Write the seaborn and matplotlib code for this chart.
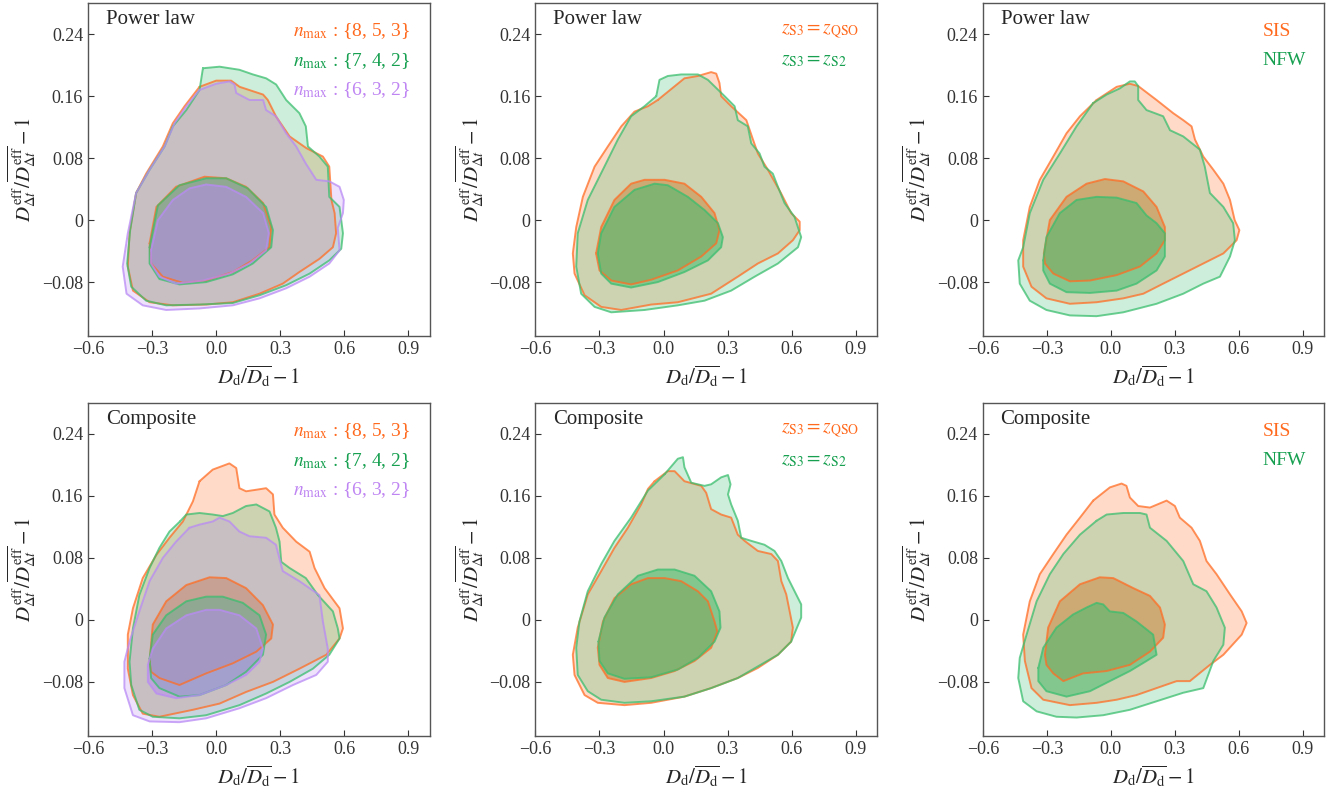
import numpy as np
import matplotlib
matplotlib.use('Agg')
import matplotlib.pyplot as plt
import seaborn as sns

# Contour outlines (68% inner / 95% outer)
# x = D_d/<D_d> - 1, y = D_dt/<D_dt> - 1

# ---- Power law, n_max
pl_n853_95 = [(-0.078, 0.172), (0.0, 0.180), (0.07, 0.180), (0.11, 0.172), (0.22, 0.162), (0.242, 0.155),
              (0.28, 0.134), (0.344, 0.108), (0.422, 0.093), (0.5, 0.082), (0.53, 0.069), (0.54, 0.026),
              (0.555, 0.009), (0.562, -0.017), (0.547, -0.035), (0.484, -0.050), (0.39, -0.067),
              (0.312, -0.082), (0.203, -0.095), (0.078, -0.106), (-0.047, -0.109), (-0.203, -0.110),
              (-0.312, -0.106), (-0.39, -0.091), (-0.414, -0.060), (-0.406, -0.017), (-0.375, 0.035),
              (-0.328, 0.060), (-0.25, 0.095), (-0.203, 0.125), (-0.148, 0.147)]
pl_n853_68 = [(-0.312, -0.030), (-0.28, 0.017), (-0.188, 0.043), (-0.055, 0.056), (0.047, 0.054),
              (0.14, 0.043), (0.22, 0.022), (0.258, -0.009), (0.25, -0.035), (0.17, -0.052),
              (0.078, -0.067), (-0.047, -0.078), (-0.156, -0.081), (-0.25, -0.073), (-0.305, -0.056)]
pl_n742_95 = [(-0.062, 0.196), (0.016, 0.198), (0.109, 0.194), (0.172, 0.188), (0.234, 0.183), (0.281, 0.175),
              (0.328, 0.155), (0.39, 0.138), (0.42, 0.121), (0.43, 0.095), (0.484, 0.082), (0.523, 0.069),
              (0.53, 0.030), (0.578, 0.017), (0.594, -0.017), (0.586, -0.037), (0.53, -0.052),
              (0.438, -0.069), (0.328, -0.084), (0.203, -0.097), (0.078, -0.107), (-0.078, -0.109),
              (-0.234, -0.110), (-0.328, -0.104), (-0.398, -0.086), (-0.417, -0.056), (-0.403, -0.013),
              (-0.375, 0.035), (-0.312, 0.065), (-0.242, 0.095), (-0.203, 0.121), (-0.14, 0.142),
              (-0.078, 0.168)]
pl_n742_68 = [(-0.312, -0.035), (-0.273, 0.019), (-0.172, 0.045), (-0.047, 0.054), (0.047, 0.054),
              (0.148, 0.041), (0.234, 0.017), (0.266, -0.013), (0.258, -0.035), (0.172, -0.056),
              (0.078, -0.070), (-0.047, -0.080), (-0.172, -0.083), (-0.266, -0.076), (-0.312, -0.056)]
pl_n632_95 = [(-0.078, 0.168), (0.0, 0.176), (0.062, 0.179), (0.086, 0.175), (0.094, 0.164), (0.156, 0.155),
              (0.22, 0.155), (0.234, 0.142), (0.28, 0.134), (0.328, 0.112), (0.375, 0.095), (0.42, 0.073),
              (0.469, 0.052), (0.53, 0.050), (0.578, 0.043), (0.598, 0.026), (0.594, 0.009),
              (0.57, -0.010), (0.578, -0.039), (0.53, -0.056), (0.438, -0.073), (0.328, -0.088),
              (0.203, -0.101), (0.078, -0.110), (-0.078, -0.114), (-0.234, -0.116), (-0.344, -0.110),
              (-0.42, -0.095), (-0.438, -0.060), (-0.414, -0.017), (-0.375, 0.035), (-0.312, 0.065),
              (-0.242, 0.095), (-0.195, 0.125), (-0.14, 0.147)]
pl_n632_68 = [(-0.305, -0.039), (-0.273, 0.0), (-0.203, 0.026), (-0.125, 0.041), (-0.047, 0.046),
              (0.047, 0.043), (0.14, 0.030), (0.22, 0.009), (0.247, -0.017), (0.234, -0.039),
              (0.156, -0.056), (0.062, -0.069), (-0.062, -0.078), (-0.188, -0.082), (-0.266, -0.073),
              (-0.305, -0.056)]

# ---- Power law, z_S3
pl_qso_95 = [(-0.027, 0.155), (0.098, 0.183), (0.161, 0.186), (0.223, 0.191), (0.247, 0.189), (0.262, 0.177),
             (0.27, 0.160), (0.317, 0.147), (0.388, 0.129), (0.419, 0.104), (0.442, 0.086), (0.489, 0.065),
             (0.55, 0.035), (0.598, 0.009), (0.638, -0.002), (0.638, -0.013), (0.606, -0.026),
             (0.536, -0.043), (0.442, -0.056), (0.348, -0.073), (0.223, -0.095), (0.067, -0.106),
             (-0.058, -0.109), (-0.198, -0.116), (-0.292, -0.112), (-0.37, -0.097), (-0.417, -0.069),
             (-0.425, -0.043), (-0.409, -0.009), (-0.378, 0.030), (-0.323, 0.069), (-0.261, 0.095),
             (-0.198, 0.121), (-0.136, 0.140), (-0.073, 0.147)]
pl_qso_68 = [(-0.316, -0.043), (-0.292, -0.009), (-0.23, 0.026), (-0.152, 0.047), (-0.089, 0.052),
             (0.005, 0.052), (0.098, 0.047), (0.177, 0.030), (0.239, 0.009), (0.262, -0.013),
             (0.247, -0.030), (0.177, -0.047), (0.067, -0.065), (-0.058, -0.077), (-0.152, -0.083),
             (-0.245, -0.078), (-0.30, -0.065)]
pl_s2_95 = [(-0.034, 0.160), (-0.019, 0.181), (0.02, 0.186), (0.083, 0.188), (0.161, 0.188), (0.208, 0.181),
            (0.286, 0.160), (0.333, 0.147), (0.348, 0.129), (0.395, 0.121), (0.411, 0.099), (0.45, 0.086),
            (0.473, 0.069), (0.512, 0.060), (0.536, 0.043), (0.567, 0.022), (0.614, 0.004),
            (0.645, -0.022), (0.63, -0.035), (0.536, -0.056), (0.427, -0.073), (0.317, -0.091),
            (0.192, -0.104), (0.067, -0.110), (-0.089, -0.116), (-0.245, -0.119), (-0.323, -0.112),
            (-0.386, -0.095), (-0.409, -0.060), (-0.402, -0.017), (-0.355, 0.026), (-0.277, 0.069),
            (-0.214, 0.104), (-0.152, 0.134), (-0.089, 0.147)]
pl_s2_68 = [(-0.308, -0.043), (-0.292, -0.017), (-0.23, 0.017), (-0.136, 0.039), (-0.042, 0.047),
            (0.02, 0.045), (0.114, 0.030), (0.192, 0.013), (0.255, -0.004), (0.278, -0.022),
            (0.27, -0.035), (0.208, -0.052), (0.098, -0.067), (-0.027, -0.080), (-0.152, -0.087),
            (-0.245, -0.082), (-0.292, -0.069)]

# ---- Power law, SIS / NFW
pl_sis_95 = [(-0.067, 0.155), (0.027, 0.172), (0.089, 0.176), (0.128, 0.173), (0.214, 0.155), (0.292, 0.138),
             (0.339, 0.129), (0.378, 0.121), (0.394, 0.104), (0.433, 0.082), (0.48, 0.065), (0.527, 0.047),
             (0.558, 0.026), (0.58, 0.0), (0.602, -0.013), (0.589, -0.026), (0.527, -0.043),
             (0.433, -0.056), (0.339, -0.069), (0.245, -0.082), (0.152, -0.095), (0.058, -0.101),
             (-0.067, -0.106), (-0.192, -0.108), (-0.302, -0.101), (-0.372, -0.086), (-0.411, -0.060),
             (-0.411, -0.026), (-0.38, 0.017), (-0.333, 0.052), (-0.27, 0.082), (-0.208, 0.112),
             (-0.145, 0.134)]
pl_sis_68 = [(-0.314, -0.043), (-0.286, 0.0), (-0.208, 0.030), (-0.114, 0.047), (-0.028, 0.053),
             (0.058, 0.050), (0.152, 0.037), (0.214, 0.017), (0.253, -0.009), (0.253, -0.026),
             (0.214, -0.043), (0.136, -0.060), (0.027, -0.071), (-0.098, -0.078), (-0.192, -0.079),
             (-0.27, -0.069), (-0.309, -0.056)]
pl_nfw_95 = [(-0.083, 0.151), (-0.02, 0.162), (0.042, 0.170), (0.089, 0.179), (0.112, 0.179), (0.128, 0.173),
             (0.128, 0.155), (0.167, 0.142), (0.245, 0.134), (0.277, 0.116), (0.339, 0.108), (0.417, 0.091),
             (0.44, 0.069), (0.464, 0.035), (0.527, 0.017), (0.573, -0.004), (0.581, -0.026),
             (0.558, -0.047), (0.511, -0.073), (0.433, -0.082), (0.339, -0.095), (0.214, -0.108),
             (0.058, -0.119), (-0.067, -0.124), (-0.192, -0.123), (-0.302, -0.116), (-0.38, -0.104),
             (-0.427, -0.082), (-0.434, -0.052), (-0.411, -0.035), (-0.38, 0.009), (-0.317, 0.052),
             (-0.239, 0.086), (-0.161, 0.121)]
pl_nfw_68 = [(-0.317, -0.052), (-0.302, -0.022), (-0.239, 0.009), (-0.161, 0.026), (-0.067, 0.030),
             (0.027, 0.029), (0.12, 0.022), (0.167, 0.006), (0.214, -0.004), (0.253, -0.017),
             (0.253, -0.047), (0.214, -0.065), (0.12, -0.082), (0.027, -0.091), (-0.098, -0.094),
             (-0.208, -0.093), (-0.286, -0.082), (-0.317, -0.065)]

# ---- Composite, n_max
co_n853_95 = [(-0.078, 0.179), (-0.016, 0.194), (0.062, 0.202), (0.094, 0.196), (0.109, 0.170), (0.14, 0.166),
              (0.188, 0.168), (0.234, 0.170), (0.266, 0.162), (0.273, 0.136), (0.312, 0.119), (0.375, 0.101),
              (0.438, 0.088), (0.461, 0.067), (0.508, 0.041), (0.578, 0.015), (0.594, -0.011),
              (0.578, -0.024), (0.516, -0.045), (0.39, -0.063), (0.266, -0.080), (0.14, -0.093),
              (0.016, -0.108), (-0.109, -0.116), (-0.266, -0.125), (-0.344, -0.121), (-0.39, -0.097),
              (-0.414, -0.063), (-0.414, -0.019), (-0.39, 0.015), (-0.344, 0.054), (-0.28, 0.084),
              (-0.219, 0.106), (-0.156, 0.127), (-0.109, 0.153)]
co_n853_68 = [(-0.312, -0.054), (-0.297, -0.006), (-0.234, 0.024), (-0.14, 0.045), (-0.031, 0.055),
              (0.047, 0.054), (0.14, 0.041), (0.219, 0.019), (0.266, -0.006), (0.258, -0.024),
              (0.188, -0.041), (0.078, -0.056), (-0.047, -0.069), (-0.172, -0.084), (-0.266, -0.075),
              (-0.305, -0.067)]
co_n742_95 = [(-0.17, 0.127), (-0.14, 0.136), (-0.078, 0.138), (-0.016, 0.136), (0.031, 0.134), (0.078, 0.138),
              (0.14, 0.147), (0.188, 0.149), (0.25, 0.140), (0.28, 0.119), (0.297, 0.101), (0.305, 0.075),
              (0.344, 0.067), (0.42, 0.054), (0.477, 0.032), (0.547, 0.011), (0.57, -0.011),
              (0.578, -0.024), (0.53, -0.045), (0.453, -0.063), (0.344, -0.080), (0.234, -0.095),
              (0.109, -0.110), (-0.047, -0.123), (-0.172, -0.127), (-0.297, -0.125), (-0.36, -0.116),
              (-0.398, -0.084), (-0.406, -0.054), (-0.39, -0.011), (-0.36, 0.032), (-0.312, 0.067),
              (-0.266, 0.093), (-0.219, 0.114)]
co_n742_68 = [(-0.312, -0.050), (-0.297, -0.019), (-0.234, 0.006), (-0.14, 0.024), (-0.047, 0.030),
              (0.031, 0.030), (0.125, 0.022), (0.203, 0.006), (0.234, -0.019), (0.219, -0.045),
              (0.14, -0.067), (0.047, -0.084), (-0.078, -0.097), (-0.172, -0.099), (-0.266, -0.088),
              (-0.305, -0.075)]
co_n632_95 = [(-0.125, 0.119), (-0.078, 0.123), (-0.016, 0.127), (0.016, 0.132), (0.062, 0.127), (0.109, 0.114),
              (0.156, 0.108), (0.234, 0.106), (0.28, 0.097), (0.312, 0.063), (0.39, 0.050), (0.484, 0.032),
              (0.50, -0.002), (0.523, -0.037), (0.523, -0.054), (0.469, -0.071), (0.36, -0.084),
              (0.234, -0.101), (0.109, -0.114), (-0.047, -0.127), (-0.172, -0.132), (-0.312, -0.131),
              (-0.39, -0.123), (-0.43, -0.088), (-0.43, -0.054), (-0.406, -0.028), (-0.36, 0.011),
              (-0.312, 0.050), (-0.25, 0.080), (-0.188, 0.101)]
co_n632_68 = [(-0.32, -0.058), (-0.297, -0.037), (-0.234, -0.011), (-0.14, 0.006), (-0.047, 0.013),
              (0.016, 0.013), (0.109, 0.006), (0.188, -0.011), (0.219, -0.037), (0.203, -0.054),
              (0.14, -0.071), (0.047, -0.084), (-0.078, -0.097), (-0.188, -0.101), (-0.28, -0.095),
              (-0.32, -0.080)]

# ---- Composite, z_S3
co_qso_95 = [(-0.042, 0.179), (0.02, 0.192), (0.052, 0.192), (0.098, 0.179), (0.177, 0.173), (0.20, 0.164),
             (0.223, 0.143), (0.27, 0.136), (0.317, 0.132), (0.348, 0.110), (0.38, 0.102), (0.442, 0.089),
             (0.505, 0.085), (0.536, 0.076), (0.552, 0.050), (0.575, 0.033), (0.591, 0.011),
             (0.606, -0.010), (0.598, -0.028), (0.536, -0.045), (0.442, -0.062), (0.348, -0.075),
             (0.223, -0.088), (0.098, -0.099), (-0.058, -0.107), (-0.183, -0.110), (-0.308, -0.107),
             (-0.37, -0.097), (-0.417, -0.071), (-0.425, -0.045), (-0.402, -0.010), (-0.355, 0.033),
             (-0.292, 0.063), (-0.23, 0.093), (-0.167, 0.119), (-0.105, 0.149), (-0.073, 0.169)]
co_qso_68 = [(-0.308, -0.036), (-0.284, -0.002), (-0.23, 0.028), (-0.152, 0.046), (-0.073, 0.054),
             (0.005, 0.054), (0.083, 0.050), (0.161, 0.037), (0.208, 0.024), (0.239, -0.002),
             (0.252, -0.015), (0.223, -0.036), (0.145, -0.053), (0.052, -0.066), (-0.058, -0.075),
             (-0.183, -0.080), (-0.261, -0.075), (-0.30, -0.058)]
co_s2_95 = [(0.005, 0.188), (0.067, 0.208), (0.091, 0.210), (0.098, 0.197), (0.13, 0.177), (0.192, 0.173),
            (0.223, 0.175), (0.27, 0.184), (0.302, 0.187), (0.314, 0.175), (0.302, 0.162), (0.317, 0.149),
            (0.348, 0.128), (0.364, 0.106), (0.411, 0.102), (0.473, 0.097), (0.52, 0.089), (0.552, 0.076),
            (0.583, 0.054), (0.614, 0.037), (0.645, 0.020), (0.645, 0.003), (0.598, -0.028),
            (0.536, -0.045), (0.442, -0.060), (0.348, -0.075), (0.223, -0.088), (0.098, -0.099),
            (-0.058, -0.105), (-0.183, -0.107), (-0.292, -0.103), (-0.355, -0.092), (-0.402, -0.071),
            (-0.409, -0.036), (-0.394, -0.002), (-0.355, 0.037), (-0.292, 0.072), (-0.23, 0.102),
            (-0.152, 0.132), (-0.073, 0.167)]
co_s2_68 = [(-0.305, -0.028), (-0.277, 0.003), (-0.214, 0.033), (-0.12, 0.057), (-0.027, 0.065),
            (0.052, 0.065), (0.145, 0.057), (0.223, 0.037), (0.262, 0.011), (0.267, -0.010),
            (0.239, -0.028), (0.161, -0.049), (0.067, -0.064), (-0.058, -0.074), (-0.183, -0.076),
            (-0.261, -0.069), (-0.30, -0.053)]

# ---- Composite, SIS / NFW
co_sis_95 = [(-0.083, 0.154), (-0.005, 0.171), (0.05, 0.176), (0.073, 0.173), (0.089, 0.158), (0.128, 0.147),
             (0.183, 0.145), (0.261, 0.154), (0.30, 0.147), (0.323, 0.132), (0.378, 0.119), (0.417, 0.102),
             (0.448, 0.076), (0.495, 0.059), (0.558, 0.033), (0.613, 0.011), (0.636, -0.004),
             (0.613, -0.019), (0.527, -0.045), (0.464, -0.058), (0.37, -0.079), (0.308, -0.079),
             (0.214, -0.088), (0.12, -0.097), (0.027, -0.103), (-0.067, -0.107), (-0.192, -0.110),
             (-0.317, -0.103), (-0.372, -0.088), (-0.403, -0.053), (-0.411, -0.019), (-0.38, 0.024),
             (-0.333, 0.059), (-0.27, 0.085), (-0.208, 0.110), (-0.145, 0.132)]
co_sis_68 = [(-0.309, -0.045), (-0.294, -0.010), (-0.239, 0.024), (-0.145, 0.046), (-0.052, 0.055),
             (0.011, 0.054), (0.105, 0.041), (0.183, 0.031), (0.23, 0.016), (0.253, -0.006),
             (0.245, -0.023), (0.183, -0.041), (0.089, -0.058), (-0.02, -0.066), (-0.13, -0.069),
             (-0.223, -0.079), (-0.27, -0.069), (-0.302, -0.058)]
co_nfw_95 = [(-0.067, 0.128), (-0.02, 0.136), (0.058, 0.138), (0.136, 0.138), (0.167, 0.136), (0.183, 0.119),
             (0.261, 0.102), (0.339, 0.076), (0.386, 0.046), (0.448, 0.037), (0.495, 0.016),
             (0.534, -0.010), (0.527, -0.032), (0.48, -0.053), (0.433, -0.088), (0.339, -0.094),
             (0.214, -0.105), (0.089, -0.116), (-0.036, -0.123), (-0.161, -0.126), (-0.255, -0.125),
             (-0.348, -0.118), (-0.411, -0.105), (-0.434, -0.075), (-0.427, -0.049), (-0.395, -0.019),
             (-0.348, 0.024), (-0.286, 0.059), (-0.223, 0.085), (-0.145, 0.110)]
co_nfw_68 = [(-0.34, -0.062), (-0.317, -0.036), (-0.255, -0.010), (-0.177, 0.007), (-0.114, 0.016),
             (-0.067, 0.022), (-0.036, 0.020), (-0.005, 0.011), (0.058, 0.009), (0.12, -0.002),
             (0.198, -0.019), (0.214, -0.045), (0.167, -0.053), (0.089, -0.066), (-0.005, -0.079),
             (-0.098, -0.092), (-0.208, -0.099), (-0.302, -0.092), (-0.34, -0.079)]

nmax_labels = [r'$n_{\rm max}$ : {8, 5, 3}', r'$n_{\rm max}$ : {7, 4, 2}', r'$n_{\rm max}$ : {6, 3, 2}']
zs_labels = [r'$z_{\rm S3}=z_{\rm QSO}$', r'$z_{\rm S3}=z_{\rm S2}$']
halo_labels = ['SIS', 'NFW']
row_titles = ['Power law', 'Composite']

x_ticks = [-0.6, -0.3, 0.0, 0.3, 0.6, 0.9]
x_tick_labels = ['\u22120.6', '\u22120.3', '0.0', '0.3', '0.6', '0.9']
y_ticks = [-0.08, 0.0, 0.08, 0.16, 0.24]
y_tick_labels = ['\u22120.08', '0', '0.08', '0.16', '0.24']

# fill colours / text colours per series
fill_colors = ['#ff6d24', '#3abe6e', '#b98af5']
text_colors = ['#ff6a1f', '#17a050', '#bf85f2']

panels = [
    [([pl_n853_95, pl_n742_95, pl_n632_95], [pl_n853_68, pl_n742_68, pl_n632_68], nmax_labels, 0.60),
     ([pl_qso_95, pl_s2_95], [pl_qso_68, pl_s2_68], zs_labels, 0.72),
     ([pl_sis_95, pl_nfw_95], [pl_sis_68, pl_nfw_68], halo_labels, 0.82)],
    [([co_n853_95, co_n742_95, co_n632_95], [co_n853_68, co_n742_68, co_n632_68], nmax_labels, 0.60),
     ([co_qso_95, co_s2_95], [co_qso_68, co_s2_68], zs_labels, 0.72),
     ([co_sis_95, co_nfw_95], [co_sis_68, co_nfw_68], halo_labels, 0.82)],
]

sns.set_style('ticks')
plt.rcParams['font.family'] = ['Liberation Serif', 'DejaVu Serif']
plt.rcParams['mathtext.fontset'] = 'stix'

fig, axes = plt.subplots(2, 3, figsize=(13.35, 7.89), dpi=100)
fig.subplots_adjust(left=0.066, right=0.992, bottom=0.067, top=0.996, wspace=0.31, hspace=0.2)


def draw_contour(ax, pts, color, fill_alpha):
    xs = [p[0] for p in pts] + [pts[0][0]]
    ys = [p[1] for p in pts] + [pts[0][1]]
    ax.fill(xs, ys, color=color, alpha=fill_alpha, lw=0)
    sns.lineplot(x=xs, y=ys, sort=False, estimator=None, color=color, lw=1.4, alpha=0.75, ax=ax)


for r in range(2):
    for c in range(3):
        ax = axes[r, c]
        outers, inners, labels, lx = panels[r][c]
        for i in range(len(outers)):
            draw_contour(ax, outers[i], fill_colors[i], 0.25)
            draw_contour(ax, inners[i], fill_colors[i], 0.5)
        for i, lab in enumerate(labels):
            ax.text(lx, 0.915 - i * 0.088, lab, color=text_colors[i], fontsize=14,
                    transform=ax.transAxes, ha='left', va='center')
        ax.text(0.052, 0.95, row_titles[r], fontsize=15, transform=ax.transAxes, ha='left', va='center')
        ax.set_xlim(-0.6, 1.0)
        ax.set_ylim(-0.15, 0.28)
        ax.set_xticks(x_ticks)
        ax.set_xticklabels(x_tick_labels)
        ax.set_yticks(y_ticks)
        ax.set_yticklabels(y_tick_labels)
        ax.tick_params(direction='in', length=4, width=0.8, labelsize=13, colors='#333333')
        ax.set_xlabel(r'$D_{\rm d}/\overline{D_{\rm d}}-1$', fontsize=15, labelpad=4)
        ax.set_ylabel(r'$D_{\Delta t}^{\rm eff}/\overline{D_{\Delta t}^{\rm eff}}-1$', fontsize=15, labelpad=2)
        for s in ax.spines.values():
            s.set_color('#555555')
            s.set_linewidth(1.0)

fig.savefig('out.png', dpi=100)
